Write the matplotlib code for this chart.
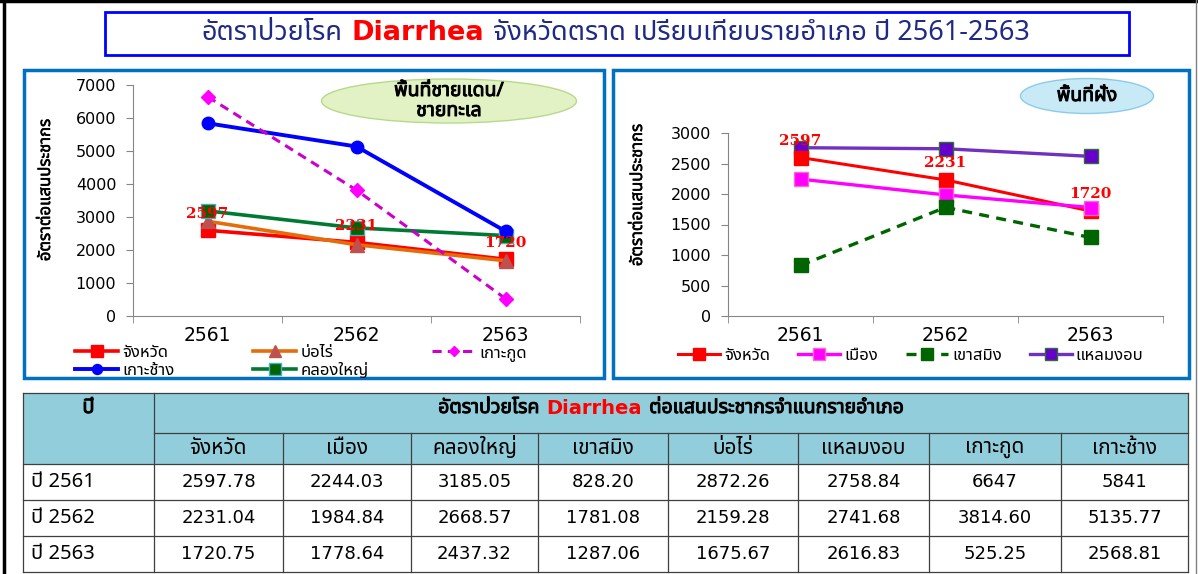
import numpy as np
import matplotlib
matplotlib.use("Agg")
import matplotlib.pyplot as plt
import matplotlib.font_manager as fm
import matplotlib.patheffects as pe
from matplotlib.ft2font import FT2Font
from matplotlib.patches import Rectangle, Ellipse

# find a font with Thai glyphs
pref = ["Tahoma", "Noto Sans Thai", "Noto Sans Thai UI", "Loma", "Garuda", "Sarabun", "Waree", "Umpush", "Norasi"]
found = {}
for f in fm.fontManager.ttflist:
    try:
        if 0x0E2D in FT2Font(f.fname).get_charmap():
            w = f.weight if isinstance(f.weight, int) else (700 if "bold" in str(f.weight) else 400)
            found.setdefault(f.name, set()).add(w)
    except Exception:
        pass
thai = None
for p in pref:
    if p in found:
        thai = p
        break
if thai is None and found:
    thai = list(found)[0]
TH = [thai, "DejaVu Sans"] if thai else ["DejaVu Sans"]
has_bold = thai is not None and max(found[thai]) >= 600


def bold_kw(color="black", w=0.7):
    # real bold if the Thai font has it, else thicken with a stroke
    if has_bold:
        return {"fontweight": "bold"}
    return {"path_effects": [pe.withStroke(linewidth=w, foreground=color)]}


# data
years = ["2561", "2562", "2563"]
jangwat = [2597.78, 2231.04, 1720.75]
mueang = [2244.03, 1984.84, 1778.64]
khlong_yai = [3185.05, 2668.57, 2437.32]
khao_saming = [828.20, 1781.08, 1287.06]
bo_rai = [2872.26, 2159.28, 1675.67]
laem_ngop = [2758.84, 2741.68, 2616.83]
ko_kut = [6647, 3814.60, 525.25]
ko_chang = [5841, 5135.77, 2568.81]

table_cols = ["จังหวัด", "เมือง", "คลองใหญ่", "เขาสมิง", "บ่อไร่", "แหลมงอบ", "เกาะกูด", "เกาะช้าง"]
table_data = [jangwat, mueang, khlong_yai, khao_saming, bo_rai, laem_ngop, ko_kut, ko_chang]

W, H = 1198, 574
fig = plt.figure(figsize=(W / 100, H / 100), dpi=100)


def fbox(x0, y0, x1, y1):
    return [x0 / W, 1 - y1 / H, (x1 - x0) / W, (y1 - y0) / H]


def style_axes(ax, ymax, ystep):
    ax.set_facecolor("none")
    for s in ["top", "right"]:
        ax.spines[s].set_visible(False)
    for s in ["left", "bottom"]:
        ax.spines[s].set_color("#868686")
    ax.set_xlim(-0.5, 2.5)
    ax.set_ylim(0, ymax)
    ax.set_yticks(np.arange(0, ymax + 1, ystep))
    ax.set_xticks(range(3))
    ax.set_xticklabels(years, fontsize=13.5, family="DejaVu Sans")
    ax.set_xticks([-0.5, 0.5, 1.5, 2.5], minor=True)
    ax.tick_params(axis="x", which="major", length=0, pad=7)
    ax.tick_params(axis="x", which="minor", length=5, color="#868686")
    ax.tick_params(axis="y", length=5, color="#868686", labelsize=11.5, pad=7)
    for t in ax.get_yticklabels():
        t.set_family("DejaVu Sans")


def annotate_total(ax, vals):
    for i, v in enumerate(vals):
        ax.annotate(str(int(v)), (i, v), xytext=(0, 12), textcoords="offset points",
                    ha="center", va="center", color="#ff0000", fontsize=11,
                    fontweight="bold", family="DejaVu Serif", zorder=10)


x = np.arange(3)

# left chart
axL = fig.add_axes(fbox(133, 85, 580, 316))
style_axes(axL, 7000, 1000)
hL = {}
hL["จังหวัด"], = axL.plot(x, jangwat, color="#ff0000", lw=2.6, marker="s", ms=10, mfc="#ff0000", mec="#ff0000")
hL["บ่อไร่"], = axL.plot(x, bo_rai, color="#e46c0a", lw=2.6, marker="^", ms=10, mfc="#c0504d", mec="#c0504d")
hL["คลองใหญ่"], = axL.plot(x, khlong_yai, color="#007a33", lw=2.6, marker="s", ms=10, mfc="#006400", mec="#4bacc6")
hL["เกาะช้าง"], = axL.plot(x, ko_chang, color="#0000ff", lw=2.8, marker="o", ms=9, mfc="#0000ff", mec="#0000ff")
hL["เกาะกูด"], = axL.plot(x, ko_kut, color="#cc00cc", lw=2.2, ls=(0, (3, 2)), marker="D", ms=7, mfc="#ff00ff", mec="#ff00ff")
annotate_total(axL, jangwat)

# right chart
axR = fig.add_axes(fbox(728, 133, 1163, 316))
style_axes(axR, 3000, 500)
hR = {}
hR["แหลมงอบ"], = axR.plot(x, laem_ngop, color="#7030c0", lw=2.4, marker="s", ms=10.5, mfc="#6600cc", mec="#2f6f2f")
hR["จังหวัด"], = axR.plot(x, jangwat, color="#ff0000", lw=2.2, marker="s", ms=10.5, mfc="#ff0000", mec="#ff0000")
hR["เมือง"], = axR.plot(x, mueang, color="#ff00ff", lw=2.4, marker="s", ms=10.5, mfc="#ff00ff", mec="#ff66cc")
hR["เขาสมิง"], = axR.plot(x, khao_saming, color="#006400", lw=2.4, ls=(0, (3, 2.2)), marker="s", ms=10.5, mfc="#006400", mec="#006400")
annotate_total(axR, jangwat)

# overlay in pixel coordinates
ov = fig.add_axes([0, 0, 1, 1], zorder=5)
ov.set_xlim(0, W)
ov.set_ylim(H, 0)
ov.axis("off")

# page border
ov.plot([4, 4], [0, H], color="black", lw=2.5)
ov.plot([0, W], [1, 1], color="black", lw=2.5)
ov.plot([1196, 1196], [0, H], color="#808080", lw=1)

# title box
ov.add_patch(Rectangle((105, 12), 1024, 43, fill=False, ec="#0000ff", lw=2))


def rich(ax, xc, y, parts, gap, size):
    r = fig.canvas.get_renderer()
    ts = [ax.text(0, y, s, color=c, va="center", ha="left", fontsize=size, **kw) for s, c, kw in parts]
    ws = [t.get_window_extent(r).width for t in ts]
    xx = xc - (sum(ws) + gap * (len(ws) - 1)) / 2
    for t, w in zip(ts, ws):
        t.set_x(xx)
        xx += w + gap


navy = "#1f2a85"
latin_bold = {"family": "DejaVu Sans", "fontweight": "bold"}
rich(ov, 616, 33, [("อัตราป่วยโรค", navy, dict(family=TH)),
                   ("Diarrhea", "#ff0000", latin_bold),
                   ("จังหวัดตราด เปรียบเทียบรายอำเภอ ปี 2561-2563", navy, dict(family=TH))],
     9, 19.5)

# panel frames
ov.add_patch(Rectangle((24, 70), 580, 308, fill=False, ec="#0070c0", lw=2.5))
ov.add_patch(Rectangle((613, 70), 576, 308, fill=False, ec="#0070c0", lw=2.5))

# ellipse labels
ov.add_patch(Ellipse((449, 101), 255, 44, fc="#e2f2c4", ec="#b8d98c", lw=1))
ov.text(449, 101, "พื้นที่ชายแดน/\nชายทะเล", ha="center", va="center", fontsize=14,
        family=TH, linespacing=1.0, **bold_kw())
ov.add_patch(Ellipse((1087, 96), 133, 35, fc="#c8eaf7", ec="#8ccbe8", lw=1))
ov.text(1087, 96, "พื้นที่ฝั่ง", ha="center", va="center", fontsize=14, family=TH, **bold_kw())

# y labels
ov.text(46, 190, "อัตราต่อแสนประชากร", rotation=90, ha="center", va="center", fontsize=12, family=TH,
        **bold_kw(w=0.4))
ov.text(638, 195, "อัตราต่อแสนประชากร", rotation=90, ha="center", va="center", fontsize=12, family=TH,
        **bold_kw(w=0.4))

# legends: one legend per column so columns sit where the reference has them
leg_kw = dict(loc="upper left", bbox_transform=ov.transData, frameon=False, borderpad=0,
              borderaxespad=0, handletextpad=0.25, labelspacing=0.1, markerscale=0.8,
              prop={"family": TH, "size": 12})
colsL = [(75, ["จังหวัด", "เกาะช้าง"]), (253, ["บ่อไร่", "คลองใหญ่"]), (432, ["เกาะกูด"])]
for x0, names in colsL:
    lg = ov.legend([hL[k] for k in names], names, bbox_to_anchor=(x0, 345), handlelength=2.6, **leg_kw)
    ov.add_artist(lg)
orderR = ["จังหวัด", "เมือง", "เขาสมิง", "แหลมงอบ"]
ov.legend([hR[k] for k in orderR], orderR, ncol=4, bbox_to_anchor=(678, 348),
          handlelength=2.5, columnspacing=1.7, **leg_kw)

# table
col_x = [23, 154, 283, 411, 538, 668, 798, 929, 1061, 1188]
row_y = [393, 433, 464, 500, 536, 572]
hdr = "#92cddc"
grid = "#3f3f3f"
ov.add_patch(Rectangle((col_x[0], row_y[0]), col_x[-1] - col_x[0], row_y[2] - row_y[0], fc=hdr, ec="none"))
for yy in row_y[2:]:
    ov.plot([col_x[0], col_x[-1]], [yy, yy], color=grid, lw=0.9)
ov.plot([col_x[0], col_x[-1]], [row_y[0], row_y[0]], color=grid, lw=0.9)
ov.plot([col_x[1], col_x[-1]], [row_y[1], row_y[1]], color=grid, lw=0.9)
for i, xx in enumerate(col_x):
    top = row_y[0] if i in (0, 1, len(col_x) - 1) else row_y[1]
    ov.plot([xx, xx], [top, row_y[-1]], color=grid, lw=0.9)

ov.text((col_x[0] + col_x[1]) / 2, 408, "ปี", ha="center", va="center", fontsize=14.5,
        family=TH, **bold_kw())
rich(ov, (col_x[1] + col_x[-1]) / 2, 408,
     [("อัตราป่วยโรค", "black", dict(family=TH, **bold_kw())), ("Diarrhea", "#ff0000", latin_bold),
      ("ต่อแสนประชากรจำแนกรายอำเภอ", "black", dict(family=TH, **bold_kw()))], 7, 14)
for j, name in enumerate(table_cols):
    ov.text((col_x[j + 1] + col_x[j + 2]) / 2, 448, name, ha="center", va="center",
            fontsize=15, family=TH)
for r, yr in enumerate(years):
    yc = (row_y[r + 2] + row_y[r + 3]) / 2
    ov.text(col_x[0] + 8, yc, "ปี " + yr, ha="left", va="center", fontsize=14.5, family=TH)
    for j, vals in enumerate(table_data):
        v = vals[r]
        s = str(v) if isinstance(v, int) else f"{v:.2f}"
        ov.text((col_x[j + 1] + col_x[j + 2]) / 2, yc, s, ha="center", va="center",
                fontsize=13, family="DejaVu Sans")

fig.savefig("out.png", dpi=100)
